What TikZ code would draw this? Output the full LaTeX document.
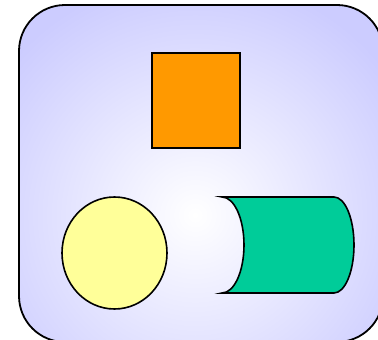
\documentclass[tikz,border=0pt]{standalone}
\usepackage{tikz}
\definecolor{panelblue}{HTML}{CCCCFF}
\definecolor{boxorange}{HTML}{FF9900}
\definecolor{discyellow}{HTML}{FFFF99}
\definecolor{drumgreen}{HTML}{00CC99}
\begin{document}
\begin{tikzpicture}[x=1pt,y=-1pt,
    outline/.style={draw=black,line width=1.6pt},
    panel/.style={rounded corners=46pt}]
\useasboundingbox (0,0) rectangle (378,340);
% background panel, white in the middle fading to blue
\begin{scope}
  \clip[panel] (19,5) rectangle (383,342);
  \shade[inner color=white,outer color=panelblue] (-45,-25) rectangle (435,455);
\end{scope}
\draw[panel,line width=1.8pt] (19,5) rectangle (383,342);
% the square
\draw[outline,fill=boxorange] (152,53) rectangle (240,148);
% the ellipse
\draw[outline,fill=discyellow] (114.5,253) ellipse [x radius=52.5pt,y radius=56pt];
% the drum lying on its side
\draw[outline,fill=drumgreen] (222,197) -- (334,197)
  arc[start angle=90,end angle=-90,x radius=20pt,y radius=48pt]
  -- (222,293)
  arc[start angle=-90,end angle=90,x radius=22pt,y radius=48pt]
  -- cycle;
\end{tikzpicture}
\end{document}
